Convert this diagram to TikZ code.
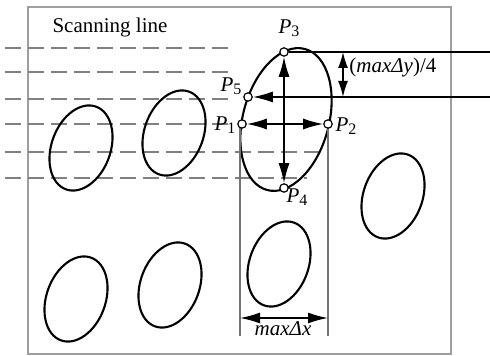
\documentclass[tikz,border=0pt]{standalone}
\usepackage{fontspec}
\setmainfont{Liberation Serif}
\usetikzlibrary{arrows.meta}
\newcommand{\plab}[1]{\textit{P}\raisebox{-1.6pt}{\fontsize{8pt}{8pt}\selectfont #1}}
\begin{document}
\begin{tikzpicture}[x=0.5pt,y=-0.5pt,
  blob/.style={draw=black,line width=1.05pt},
  scan/.style={draw=black!50,line width=1pt,dash pattern=on 8pt off 3.5pt},
  frame/.style={draw=black!38,line width=0.8pt},
  guide/.style={draw=black!55,line width=0.6pt},
  arr/.style={line width=0.8pt,-{Latex[length=10pt,width=5.5pt]}},
  darr/.style={line width=0.8pt,{Latex[length=10pt,width=5.5pt]}-{Latex[length=10pt,width=5.5pt]}},
  sdarr/.style={line width=0.8pt,{Latex[length=8pt,width=5pt]}-{Latex[length=8pt,width=5pt]}},
  thin/.style={line width=0.6pt},
  pnt/.style={circle,draw=black,fill=white,line width=0.6pt,inner sep=0pt,minimum size=4.2pt},
  lab/.style={font=\fontsize{10.5pt}{12pt}\selectfont,inner sep=0pt}
]
\useasboundingbox (0,0) rectangle (490,356);
\draw[frame] (28,7) rectangle (451,354);
\node[lab] (title) at (110,27) {Scanning line};
% scanning lines
\foreach \yy in {48,72,99,124} {\draw[scan] (5,\yy) -- (232,\yy);}
\draw[scan] (5,152) -- (322,152);
\draw[scan] (5,178) -- (307,178);
% small ellipses
\foreach \cx/\cy in {81/148, 174/133, 76/299, 170/285, 279/264, 393/196}
  {\draw[blob,rotate around={-20:(\cx,\cy)}] (\cx,\cy) ellipse [x radius=29.5, y radius=44];}
% big ellipse
\draw[blob,rotate around={-15:(286,119.5)}] (286,119.5) ellipse [x radius=43, y radius=73];
% guides
\draw[guide] (240,126) -- (240,336);
\draw[guide] (328,126) -- (328,336);
% points
\node[pnt] (p3) at (284,52) {};
\node[pnt] (p4) at (284,188) {};
\node[pnt] (p1) at (242,124) {};
\node[pnt] (p2) at (328,124) {};
\node[pnt] (p5) at (248,97) {};
\coordinate (r3) at (490,52);
\coordinate (r5) at (490,97);
\coordinate (d1) at (343,52);
\coordinate (d2) at (343,97);
\coordinate (b1) at (240,318);
\coordinate (b2) at (328,318);
% connectors
\draw[thin] (p3) -- (r3);
\draw[arr] (r5) -- (p5);
\draw[darr] (p3) -- (p4);
\draw[darr] (p1) -- (p2);
\draw[sdarr] (d1) -- (d2);
\draw[darr] (b1) -- (b2);
% labels
\node[lab] (l3) at (289,28) {\plab{3}};
\node[lab] (l4) at (297,197) {\plab{4}};
\node[lab] (l1) at (225,125) {\plab{1}};
\node[lab] (l2) at (346,126) {\plab{2}};
\node[lab] (l5) at (231,86) {\plab{5}};
\node[lab,anchor=west] (dy) at (349,67) {(\textit{maxΔy})/4};
\node[lab] (dx) at (283,329) {\textit{maxΔx}};
\end{tikzpicture}
\end{document}
